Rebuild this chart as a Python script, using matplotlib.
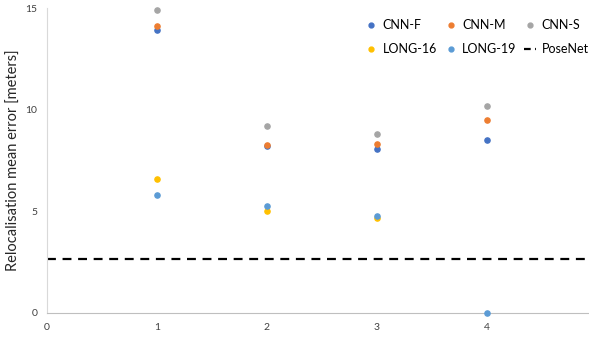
import numpy as np
import matplotlib.pyplot as plt
from matplotlib.lines import Line2D

plt.rcParams['font.family'] = ['Lato', 'DejaVu Sans']

steps = [1, 2, 3, 4]
cnn_f = [13.9, 8.22, 8.07, 8.5]
cnn_m = [14.1, 8.25, 8.3, 9.5]
cnn_s = [14.9, 9.2, 8.8, 10.2]
long_16 = [6.6, 5.02, 4.68, np.nan]
long_19 = [5.82, 5.28, 4.78, 0.0]
posenet = 2.66

series = [
    ("CNN-F", cnn_f, "#4472C4"),
    ("CNN-M", cnn_m, "#ED7D31"),
    ("CNN-S", cnn_s, "#A5A5A5"),
    ("LONG-16", long_16, "#FFC000"),
    ("LONG-19", long_19, "#5B9BD5"),
]

fig = plt.figure(figsize=(5.89, 3.41), dpi=100)
ax = fig.add_axes([47 / 589, 1 - 313 / 341, 1 - 47 / 589, 305 / 341])

handles = []
for name, vals, col in series:
    ax.scatter(steps, vals, s=14, color=col, zorder=3, clip_on=False)
    handles.append(Line2D([], [], linestyle='none', marker='o', markersize=3.5,
                          color=col, label=name))

ax.axhline(posenet, color='black', linestyle=(0, (4, 3)), linewidth=1.6, zorder=2)
handles.append(Line2D([], [], color='black', linestyle=(0, (3, 2)), linewidth=1.6,
                      label='PoseNet'))

ax.set_xlim(0, 4.93)
ax.set_ylim(0, 15)
ax.set_xticks([0, 1, 2, 3, 4])
ax.set_yticks([0, 5, 10, 15])
ax.tick_params(length=0, labelsize=7.5, colors='#404040', pad=7)
ax.set_ylabel("Relocalisation mean error [meters]", fontsize=10.5, color='#262626')
ax.yaxis.set_label_coords(-0.049, 0.5)

for s in ['top', 'right']:
    ax.spines[s].set_visible(False)
ax.spines['left'].set_color('#D9D9D9')
ax.spines['bottom'].set_color('#BFBFBF')

# legend fills column by column, so reorder to read row by row
order = [0, 3, 1, 4, 2, 5]
ax.legend(handles=[handles[i] for i in order], ncol=3, loc='upper right',
          bbox_to_anchor=(1.02, 1.0), frameon=False, fontsize=9,
          handlelength=1.0, handletextpad=0.4, columnspacing=0.6, labelspacing=0.95)

fig.savefig("out.png", dpi=100)
